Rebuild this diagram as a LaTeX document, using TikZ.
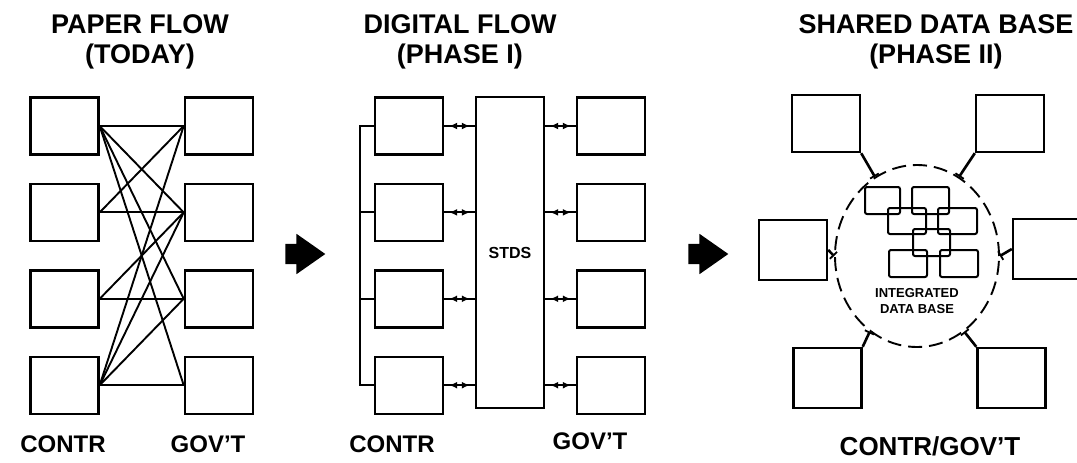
\documentclass[tikz,border=0pt]{standalone}
\usepackage{fontspec}
\setmainfont{Liberation Sans}
\usetikzlibrary{shapes.geometric, shapes.arrows, arrows.meta, positioning}

\begin{document}
\begin{tikzpicture}[x=1pt, y=-1pt, node distance=27pt, every node/.style={font=\bfseries}]
    \tikzstyle{box} = [rectangle, draw, line width=2.4pt, minimum width=68pt, minimum height=57pt, inner sep=0pt]
    \tikzstyle{line} = [draw, line width=1.9pt]
    \tikzstyle{link} = [draw, line width=2pt]
    \tikzstyle{tips} = [draw, line width=2pt, {Latex[length=8pt,width=7pt]}-{Latex[length=8pt,width=7pt]}, shorten <=5pt, shorten >=5pt]
    \tikzstyle{spoke} = [draw, line width=2.6pt, -{Bar[width=10pt,line width=1.8pt]}]
    \tikzstyle{heading} = [font=\fontsize{27}{30}\selectfont\bfseries, align=center, inner sep=0pt]
    \tikzstyle{side} = [font=\fontsize{24}{28}\selectfont\bfseries, inner sep=0pt, anchor=base]
    \tikzstyle{bigarrow} = [single arrow, fill=black, minimum height=40pt, inner xsep=0pt, inner ysep=10pt, single arrow head extend=10pt, single arrow tip angle=70]

    \clip (0,0) rectangle (1077,463);

    % paper flow
    \node[heading, anchor=north] (paper) at (140,14) {PAPER FLOW\\(TODAY)};
    \node[box] (c1) at (64.5,126) {};
    \node[box, below=of c1] (c2) {};
    \node[box, below=of c2] (c3) {};
    \node[box, below=of c3] (c4) {};
    \node[box, right=84pt of c1] (g1) {};
    \node[box, below=of g1] (g2) {};
    \node[box, below=of g2] (g3) {};
    \node[box, below=of g3] (g4) {};

    \path [line] (c1.east) -- (g1.west);
    \path [line] (c1.east) -- (g2.west);
    \path [line] (c1.east) -- (g3.west);
    \path [line] (c1.east) -- (g4.west);
    \path [line] (c2.east) -- (g1.west);
    \path [line] (c2.east) -- (g2.west);
    \path [line] (c3.east) -- (g2.west);
    \path [line] (c3.east) -- (g3.west);
    \path [line] (c4.east) -- (g1.west);
    \path [line] (c4.east) -- (g2.west);
    \path [line] (c4.east) -- (g3.west);
    \path [line] (c4.east) -- (g4.west);

    \node[side] (contrA) at (63,452) {CONTR};
    \node[side] (govA) at (208,452) {GOV'T};

    \node[bigarrow] (next1) at (298,254) {};

    % digital flow
    \node[heading, anchor=north] (digital) at (460,14) {DIGITAL FLOW\\(PHASE I)};
    \node[box] (d1) at (409,126) {};
    \node[box, below=of d1] (d2) {};
    \node[box, below=of d2] (d3) {};
    \node[box, below=of d3] (d4) {};
    \node[box, minimum height=311pt] (stds) at (510,252.5) {\fontsize{16}{18}\selectfont STDS};
    \node[box] (e1) at (611,126) {};
    \node[box, below=of e1] (e2) {};
    \node[box, below=of e2] (e3) {};
    \node[box, below=of e3] (e4) {};

    \coordinate (bus) at (360,126);
    \path [link] (d1.west) -- (bus) |- (d4.west);
    \path [link] (d2.west) -- (d2.west -| bus);
    \path [link] (d3.west) -- (d3.west -| bus);
    \foreach \i in {1,2,3,4} {
        \path [link] (d\i.east) -- (d\i.east -| stds.west);
        \path [tips] (d\i.east) -- (d\i.east -| stds.west);
        \path [link] (e\i.west -| stds.east) -- (e\i.west);
        \path [tips] (e\i.west -| stds.east) -- (e\i.west);
    }

    \node[side] (contrB) at (392,452) {CONTR};
    \node[side] (govB) at (590,449) {GOV'T};

    \node[bigarrow] (next2) at (701,254) {};

    % shared data base
    \node[heading, anchor=north] (shared) at (936,14) {SHARED DATA BASE\\(PHASE II)};
    \node[box] (t1) at (826,123.5) {};
    \node[box] (t2) at (1010,123.5) {};
    \node[box, minimum height=60pt] (m1) at (793,250) {};
    \node[box, minimum height=60pt] (m2) at (1047,249) {};
    \node[box, minimum height=60pt] (b1) at (827.5,378) {};
    \node[box, minimum height=60pt] (b2) at (1011.5,378) {};
    \node[ellipse, draw, line width=1.9pt, dash pattern=on 14pt off 7pt, minimum width=164pt, minimum height=182pt] (idb) at (917,256) {};

    \foreach \x/\y/\w/\h in {865/187/35/27, 912/187/37/27, 888/208/38/26, 938/208/39/26, 913/229/37/27, 889/250/38/27, 940/250/38/27}
        \draw[line width=2pt, rounded corners=2pt] (\x,\y) rectangle ++(\w,\h);

    \node[font=\fontsize{13}{16}\selectfont\bfseries, align=center] (idbname) at (917,301) {INTEGRATED\\DATA BASE};

    \path [spoke] (t1.south east) -- (idb.118);
    \path [spoke] (t2.south west) -- (idb.62);
    \path [spoke] (m1.east) -- (idb.west);
    \path [spoke] (m2.west) -- (idb.east);
    \path [spoke] (b1.north east) -- (idb.238);
    \path [spoke] (b2.north west) -- (idb.302);

    \node[side, font=\fontsize{26}{28}\selectfont\bfseries] (both) at (930,455) {CONTR/GOV'T};
\end{tikzpicture}
\end{document}
